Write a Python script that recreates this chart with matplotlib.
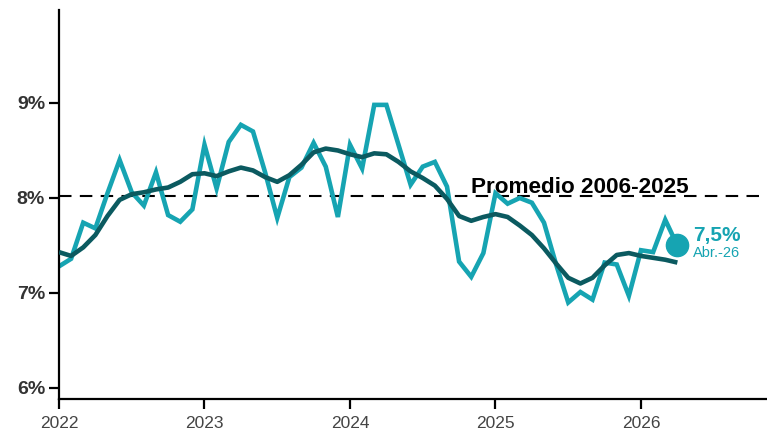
import numpy as np
import matplotlib
matplotlib.use("Agg")
import matplotlib.pyplot as plt

plt.rcParams['font.family'] = ['Liberation Sans', 'DejaVu Sans']

# Monthly rate, Jan 2022 - Apr 2026 (%)
monthly = [7.28, 7.36, 7.74, 7.68, 8.05, 8.40, 8.06, 7.92, 8.27, 7.82, 7.75, 7.88,
           8.56, 8.10, 8.59, 8.77, 8.70, 8.27, 7.79, 8.22, 8.32, 8.58, 8.33, 7.80,
           8.56, 8.31, 8.98, 8.98, 8.56, 8.14, 8.33, 8.38, 8.12, 7.33, 7.17, 7.42,
           8.05, 7.94, 8.00, 7.95, 7.74, 7.30, 6.90, 7.01, 6.93, 7.32, 7.30, 6.97,
           7.45, 7.43, 7.77, 7.50]

# Smoothed trend (%)
trend = [7.43, 7.39, 7.48, 7.61, 7.81, 7.98, 8.04, 8.06, 8.09, 8.11, 8.17, 8.25,
         8.26, 8.23, 8.28, 8.32, 8.29, 8.22, 8.17, 8.24, 8.35, 8.48, 8.52, 8.50,
         8.46, 8.43, 8.47, 8.46, 8.38, 8.28, 8.21, 8.13, 7.99, 7.81, 7.76, 7.80,
         7.83, 7.80, 7.71, 7.61, 7.47, 7.31, 7.16, 7.10, 7.16, 7.29, 7.40, 7.42,
         7.39, 7.37, 7.35, 7.32]

average_2006_2025 = 8.02
start_year = 2022
year_ticks = [2022, 2023, 2024, 2025, 2026]
pct_ticks = [6, 7, 8, 9]
last_label = "7,5%"
last_date = "Abr.-26"
avg_label = "Promedio 2006-2025"

TEAL = "#16a4b2"
DARK = "#0b5a60"

x = start_year + np.arange(len(monthly)) / 12.0

fig = plt.figure(figsize=(7.67, 4.32), dpi=100)
ax = fig.add_axes([0.0769, 0.0764, 0.9231, 0.9005])

ax.axhline(average_2006_2025, color="black", lw=1.5, linestyle=(0, (6, 4)), zorder=1)
ax.plot(x, monthly, color=TEAL, lw=3.3, solid_joinstyle="miter", zorder=2)
ax.plot(x, trend, color=DARK, lw=3.3, solid_capstyle="butt", zorder=3)
ax.plot(x[-1], monthly[-1], "o", color=TEAL, markersize=16, zorder=4)

ax.text(x[-1] + 0.11, monthly[-1] + 0.10, last_label, color=TEAL, fontsize=15,
        fontweight="bold", ha="left", va="center", zorder=5)
ax.text(x[-1] + 0.11, monthly[-1] - 0.08, last_date, color=TEAL, fontsize=10.5,
        ha="left", va="center", zorder=5)
ax.text(2024.83, average_2006_2025 + 0.035, avg_label, color="black", fontsize=16.2,
        fontweight="bold", ha="left", va="baseline", zorder=5)

ax.set_xlim(2022, 2026.866)
ax.set_ylim(5.884, 9.979)

ax.set_yticks(pct_ticks)
ax.set_yticklabels([f"{v}%" for v in pct_ticks], fontsize=14, fontweight="bold", color="#333333")
ax.set_xticks(year_ticks)
ax.set_xticklabels([str(y) for y in year_ticks], fontsize=12.5, color="#444444")

for side in ("top", "right"):
    ax.spines[side].set_visible(False)
for side in ("left", "bottom"):
    ax.spines[side].set_linewidth(1.6)
    ax.spines[side].set_color("black")

ax.tick_params(axis="y", length=7, width=1.6, pad=3)
ax.tick_params(axis="x", length=7, width=1.6, pad=5)

fig.savefig("out.png", dpi=100)
